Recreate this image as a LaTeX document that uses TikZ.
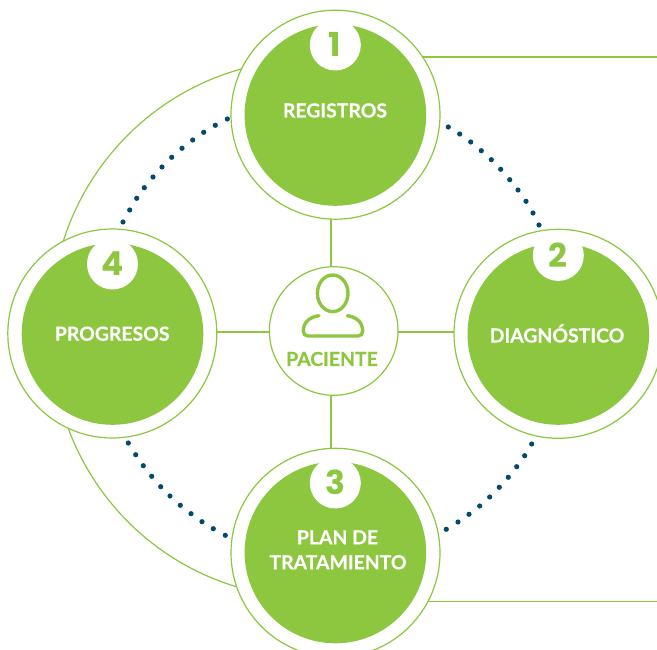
\documentclass[tikz,border=0pt]{standalone}
\usepackage{fontspec}
\setmainfont{Lato}[BoldFeatures={FakeBold=0.4}]
\newfontfamily\numfont{Poppins}
\definecolor{leaf}{HTML}{8DC63F}
\definecolor{ink}{HTML}{004A70}
\tikzset{
  ring/.style={circle,draw=leaf,line width=1.2pt,fill=white,minimum size=209pt,inner sep=0pt,outer sep=0pt},
  disc/.style={circle,fill=leaf,minimum size=181.6pt,inner sep=0pt,outer sep=0pt},
  badge/.style={circle,fill=white,minimum size=51pt,inner sep=0pt,outer sep=0pt},
  digit/.style={text=leaf,font=\numfont\fontsize{33}{33}\selectfont\bfseries,inner sep=0pt},
  title/.style={text=white,font=\fontsize{19.4}{19.4}\selectfont\bfseries,inner sep=0pt,anchor=base},
  spoke/.style={draw=leaf,line width=2.3pt},
  thin/.style={draw=leaf,line width=1.2pt},
  dotmark/.style={fill=ink},
  glyph/.style={draw=leaf,line width=3.4pt,line cap=round}
}
\begin{document}
\begin{tikzpicture}[x=1pt,y=-1pt]
\clip (0,0) rectangle (657,650);
\node[ring] (n1) at (335.5,114.7) {};
\node[ring] (n2) at (558.5,333.8) {};
\node[ring] (n3) at (335.5,552.8) {};
\node[ring] (n4) at (112.3,333.5) {};
\node[disc] (d1) at (335.4,115) {};
\node[disc] (d2) at (558.3,334) {};
\node[disc] (d3) at (335.4,552.5) {};
\node[disc] (d4) at (112.5,334) {};
\node[badge] (b1) at (335.3,45) {};
\node[badge] (b2) at (558.3,255.4) {};
\node[badge] (b3) at (335.3,483) {};
\node[badge] (b4) at (112.5,264) {};
\node[digit] (k1) at (334.5,44.5) {1};
\node[digit] (k2) at (558,255) {2};
\node[digit] (k3) at (335.5,482) {3};
\node[digit] (k4) at (112.7,263.5) {4};
\node[title] (t1) at (335,117.5) {REGISTROS};
\node[title] (t2) at (557,342.5) {DIAGNÓSTICO};
\node[title] (t3a) at (337.5,544.3) {PLAN DE};
\node[title] (t3b) at (338,569.3) {TRATAMIENTO};
\node[title] (t4) at (112.2,340.7) {PROGRESOS};
\node[circle,draw=leaf,line width=1.2pt,fill=white,minimum size=128.6pt,inner sep=0pt,outer sep=0pt] (c) at (333.7,331) {};
\node[text=leaf,font=\fontsize{19.4}{19.4}\selectfont\bfseries,inner sep=0pt,anchor=base] (cl) at (332,366) {PACIENTE};
\draw[glyph] (332.7,293.3) ellipse [x radius=15.3pt,y radius=18.3pt];
\draw[glyph] (319,315.7) .. controls (309,317) and (303.3,323) .. (303.3,331)
  .. controls (303.3,334) and (305,336) .. (308,336) -- (358,336)
  .. controls (361,336) and (362.7,334) .. (362.7,331)
  .. controls (362.7,323) and (357,317) .. (347.3,315.7);
\draw[spoke] ([xshift=-2.4pt]c.north) -- ([xshift=-4.2pt]n1.south);
\draw[spoke] ([xshift=-2.4pt]c.south) -- ([xshift=-4.2pt]n3.north);
\draw[spoke] ([yshift=-1pt]c.west) -- ([yshift=1.5pt]n4.east);
\draw[spoke] ([yshift=-1pt]c.east) -- ([yshift=1.8pt]n2.west);
\coordinate (e1) at (657,57);
\coordinate (e3) at (657,601.7);
\draw[thin] (n1.33 |- e1) -- (e1);
\draw[thin] (n3.332 |- e3) -- (e3);
\draw[thin] (n1.154.4) .. controls (156.7,92.3) and (89.8,157.5) .. (n4.118.2);
\draw[thin] (n4.245.3) .. controls (96.8,505) and (158.7,563.4) .. (n3.199.1);
\foreach \p in {(227.3,119),(215.3,125.3),(203.7,132.3),(192.7,140),(182,148.3),(171.7,157.3),(162,167),(153,177),(144.3,187.7),(136.7,198.3),(129.7,210),(123,222),
 (448.3,127),(459.7,134),(470.7,142),(481.3,150.7),(491.3,159.7),(500.7,169.3),(509.7,179.7),(518,190),(526,201.3),(533,213),(539,225),
 (531.7,444),(524.7,455.7),(516.7,466.7),(508.3,477.3),(499.3,487.3),(489.7,497),(479.7,506),(469,514.3),(458,522),(446.3,529.3),
 (128.3,443),(135.7,454.7),(143.3,465.7),(151.7,476.3),(160.7,486.7),(170,496),(180.3,505.3),(191,513.7),(202,521.7),(213.3,528.7),(225.3,535.3)}
  \fill[dotmark] \p circle [radius=2.6pt];
\end{tikzpicture}
\end{document}
